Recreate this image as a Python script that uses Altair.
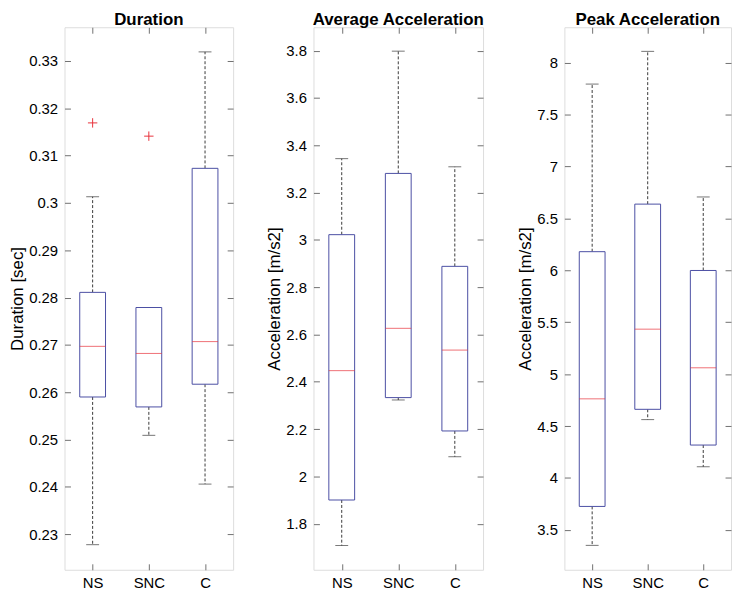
import altair as alt
import pandas as pd

groups = ["NS", "SNC", "C"]

# Duration [sec]
dur_lower = [0.2278, 0.2509, 0.2406]
dur_q1 = [0.2590, 0.2569, 0.2617]
dur_median = [0.2697, 0.2682, 0.2707]
dur_q3 = [0.2811, 0.2779, 0.3073]
dur_upper = [0.3013, 0.2779, 0.3319]
dur_out_group = ["NS", "SNC"]
dur_out_value = [0.3169, 0.3141]
dur_ticks = [0.23, 0.24, 0.25, 0.26, 0.27, 0.28, 0.29, 0.30, 0.31, 0.32, 0.33]
dur_domain = [0.2225, 0.3371]

# Average acceleration [m/s2]
avg_lower = [1.7075, 2.323, 2.083]
avg_q1 = [1.900, 2.333, 2.192]
avg_median = [2.447, 2.626, 2.534]
avg_q3 = [3.022, 3.281, 2.888]
avg_upper = [3.3435, 3.798, 3.309]
avg_ticks = [1.8, 2.0, 2.2, 2.4, 2.6, 2.8, 3.0, 3.2, 3.4, 3.6, 3.8]
avg_domain = [1.605, 3.899]

# Peak acceleration [m/s2]
pk_lower = [3.351, 4.562, 4.108]
pk_q1 = [3.726, 4.661, 4.317]
pk_median = [4.762, 5.433, 5.061]
pk_q3 = [6.179, 6.637, 5.998]
pk_upper = [7.793, 8.108, 6.706]
pk_ticks = [3.5, 4.0, 4.5, 5.0, 5.5, 6.0, 6.5, 7.0, 7.5, 8.0]
pk_domain = [3.116, 8.340]

titles = ["Duration", "Average Acceleration", "Peak Acceleration"]
ytitles = ["Duration [sec]", "Acceleration [m/s2]", "Acceleration [m/s2]"]

H = 547
BOX_BLUE = "#4a4ea3"
MED_RED = "#e8333c"
WHISK = "#3a3a3a"
FRAME = "#707070"
FONT = "Liberation Sans"


def panel(title, ytitle, lower, q1, med, q3, upper, ticks, domain, width,
          out_group=None, out_value=None):
    df = pd.DataFrame({"group": groups, "lower": lower, "q1": q1,
                       "median": med, "q3": q3, "upper": upper})
    x = alt.X("group:N", sort=groups,
              scale=alt.Scale(type="point", padding=0.5),
              axis=alt.Axis(title=None, labelAngle=0, ticks=False, domain=False,
                            grid=True, gridColor=FRAME, gridWidth=1,
                            gridDash=[6, H - 12, 6, 3000],
                            labelFontSize=15, labelFont=FONT, labelColor="#000",
                            labelPadding=6))
    yscale = alt.Scale(domain=domain, nice=False, zero=False)
    yaxis = alt.Axis(title=ytitle, values=ticks, format="~g", ticks=False,
                     domain=False, grid=True, gridColor=FRAME, gridWidth=1,
                     gridDash=[6, width - 12, 6, 3000],
                     labelFontSize=15, labelFont=FONT, labelColor="#000",
                     labelPadding=7, titleFontSize=17, titleFont=FONT,
                     titleFontWeight="normal", titleColor="#000",
                     titlePadding=2)
    base = alt.Chart(df)
    whisk_hi = base.mark_rule(color=WHISK, strokeDash=[3, 2], strokeWidth=1).encode(
        x=x, y=alt.Y("q3:Q", scale=yscale, axis=yaxis), y2="upper:Q")
    whisk_lo = base.mark_rule(color=WHISK, strokeDash=[3, 2], strokeWidth=1).encode(
        x=x, y=alt.Y("q1:Q", scale=yscale, axis=yaxis), y2="lower:Q")
    cap_hi = base.mark_tick(color=WHISK, size=13, thickness=1, orient="horizontal").encode(
        x=x, y=alt.Y("upper:Q", scale=yscale, axis=yaxis))
    cap_lo = base.mark_tick(color=WHISK, size=13, thickness=1, orient="horizontal").encode(
        x=x, y=alt.Y("lower:Q", scale=yscale, axis=yaxis))
    box = base.mark_bar(size=26, fill="white", stroke=BOX_BLUE, strokeWidth=1).encode(
        x=x, y=alt.Y("q1:Q", scale=yscale, axis=yaxis), y2="q3:Q")
    median = base.mark_tick(color=MED_RED, size=26, thickness=1, orient="horizontal").encode(
        x=x, y=alt.Y("median:Q", scale=yscale, axis=yaxis))
    head = alt.Chart(pd.DataFrame({"t": [title]})).mark_text(
        fontSize=17, fontWeight="bold", font=FONT, color="#000",
        align="center", baseline="alphabetic").encode(
        text="t:N", x=alt.value(width / 2), y=alt.value(-2))
    layers = [whisk_hi, whisk_lo, cap_hi, cap_lo, box, median]
    if out_group:
        odf = pd.DataFrame({"group": out_group, "value": out_value})
        outl = alt.Chart(odf).mark_point(
            shape="M-1,0L1,0M0,-1L0,1", size=90, filled=False,
            color=MED_RED, strokeWidth=1, opacity=1).encode(
            x=x, y=alt.Y("value:Q", scale=yscale, axis=yaxis))
        layers.append(outl)
    layers.append(head)
    return alt.layer(*layers).properties(width=width, height=H)


p1 = panel(titles[0], ytitles[0], dur_lower, dur_q1, dur_median, dur_q3,
           dur_upper, dur_ticks, dur_domain, 170, dur_out_group, dur_out_value)
p2 = panel(titles[1], ytitles[1], avg_lower, avg_q1,
           avg_median, avg_q3, avg_upper, avg_ticks, avg_domain, 171)
p3 = panel(titles[2], ytitles[2], pk_lower, pk_q1,
           pk_median, pk_q3, pk_upper, pk_ticks, pk_domain, 168)

chart = alt.hconcat(p1, p2, p3, spacing=31).properties(
    padding={"left": 0, "top": 0, "right": 0, "bottom": 0}
).configure_view(stroke=FRAME, strokeWidth=1).configure(
    background="white")

chart.save("out.html", embed_options={"renderer": "svg", "actions": False})
